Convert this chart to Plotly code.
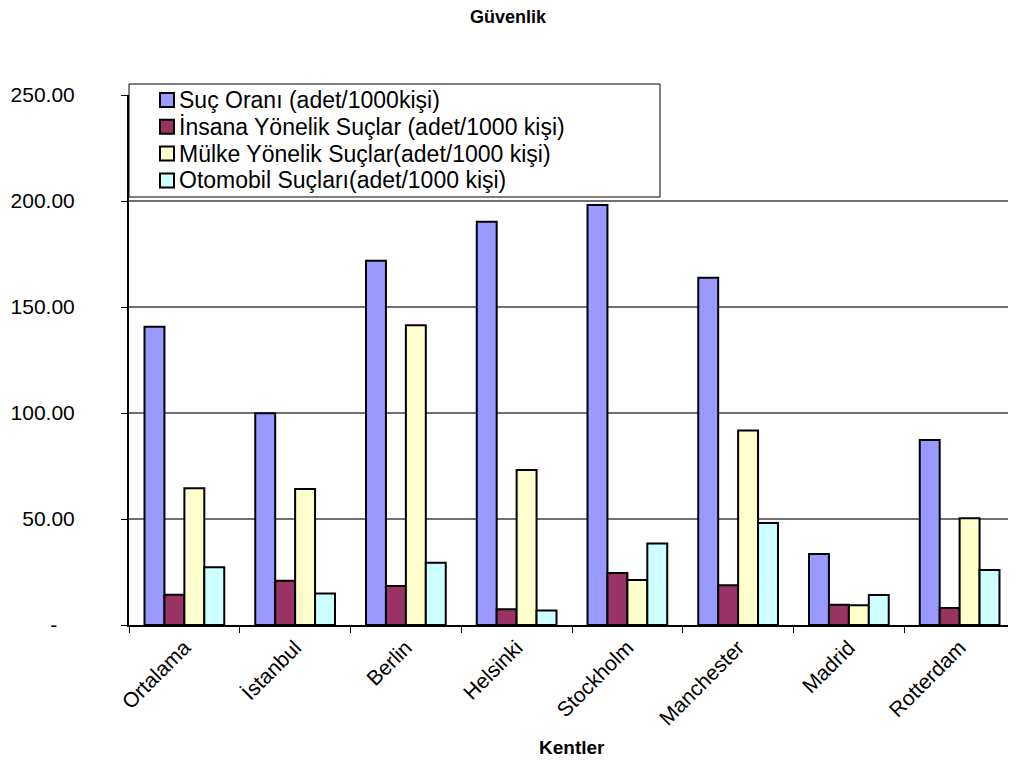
import plotly.graph_objects as go

categories = ["Ortalama", "İstanbul", "Berlin", "Helsinki", "Stockholm", "Manchester", "Madrid", "Rotterdam"]

suc_orani = [140.7, 99.9, 171.8, 190.2, 198.1, 163.8, 33.5, 87.3]
insana = [14.3, 20.9, 18.4, 7.4, 24.5, 18.7, 9.6, 8.0]
mulke = [64.5, 64.2, 141.4, 73.1, 21.2, 91.7, 9.3, 50.3]
otomobil = [27.2, 14.9, 29.4, 6.8, 38.4, 48.1, 14.2, 25.9]

series_names = [
    "Suç Oranı (adet/1000kişi)",
    "İnsana Yönelik Suçlar (adet/1000 kişi)",
    "Mülke Yönelik Suçlar(adet/1000 kişi)",
    "Otomobil Suçları(adet/1000 kişi)",
]
series_values = [suc_orani, insana, mulke, otomobil]
series_colors = ["#9999FF", "#993366", "#FFFFCC", "#CCFFFF"]

y_tickvals = [0, 50, 100, 150, 200, 250]
y_ticktext = ["-\u00a0\u00a0\u00a0", "50.00", "100.00", "150.00", "200.00", "250.00"]

FONT = "Liberation Sans, Arial, sans-serif"

# page geometry (the page body adds an 8px offset)
OFF = 8
PX0, PX1, PY0, PY1 = 129, 1015, 95, 625   # plot area in page pixels
W, H = 1016 - OFF, 762 - OFF


def px(x):
    return (x - PX0) / (PX1 - PX0)


def py(y):
    return (PY1 - y) / (PY1 - PY0)


fig = go.Figure()
for name, vals, col in zip(series_names, series_values, series_colors):
    fig.add_trace(go.Bar(
        x=categories, y=vals, name=name,
        marker=dict(color=col, line=dict(color="black", width=2)),
    ))

fig.update_layout(
    width=W, height=H,
    margin=dict(l=PX0 - OFF, r=W - (PX1 - OFF), t=PY0 - OFF, b=H - (PY1 - OFF)),
    paper_bgcolor="white", plot_bgcolor="white",
    barmode="group", bargap=0.28, bargroupgap=0,
    font=dict(family=FONT, color="black", size=20),
    title=dict(text="<b>Güvenlik</b>", x=(508 - OFF) / W, xanchor="center",
               y=1 - (17 - OFF) / H, yanchor="middle", yref="container",
               font=dict(size=18, family=FONT, color="black")),
    showlegend=False,
)

fig.update_xaxes(
    type="category", tickson="boundaries", ticks="outside", ticklen=6,
    tickcolor="black", tickwidth=1,
    showline=True, linecolor="black", linewidth=2,
    tickangle=-45, tickfont=dict(size=21, family=FONT, color="black"),
    showgrid=False, automargin=False,
)
fig.update_yaxes(
    range=[0, 250], tickvals=y_tickvals, ticktext=y_ticktext,
    ticks="outside", ticklen=6, tickcolor="black", tickwidth=1,
    showline=True, linecolor="black", linewidth=2,
    showgrid=True, gridcolor="#707070", gridwidth=1.5,
    tickfont=dict(size=21, family=FONT, color="black"),
    ticklabelstandoff=42, automargin=False, zeroline=False,
)

# plot-area border on the right
fig.add_shape(type="line", xref="paper", yref="paper", x0=1, x1=1, y0=0, y1=1,
              line=dict(color="#808080", width=2))

# legend box
fig.add_shape(type="rect", xref="paper", yref="paper",
              x0=px(129), x1=px(660), y0=py(197), y1=py(84),
              line=dict(color="black", width=1), fillcolor="white", layer="above")
line_y = [100, 126.8, 153.6, 180.4]
for name, col, yc in zip(series_names, series_colors, line_y):
    fig.add_shape(type="rect", xref="paper", yref="paper",
                  x0=px(160), x1=px(174), y0=py(yc + 7), y1=py(yc - 7),
                  line=dict(color="black", width=2), fillcolor=col, layer="above")
    fig.add_annotation(text=name, xref="paper", yref="paper",
                       x=px(177), y=py(yc), xanchor="left", yanchor="middle",
                       showarrow=False,
                       font=dict(size=23, family=FONT, color="black"))

fig.add_annotation(text="<b>Kentler</b>", xref="paper", yref="paper",
                   x=0.5, y=py(747), xanchor="center", yanchor="middle",
                   showarrow=False, font=dict(size=19, family=FONT, color="black"))

fig.write_html("out.html")
